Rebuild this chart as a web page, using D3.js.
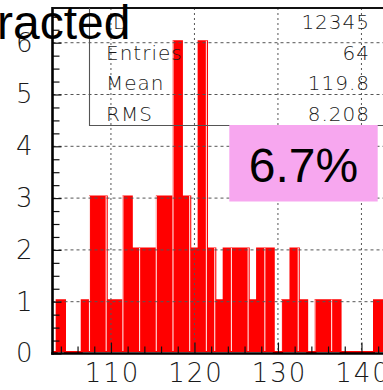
<!DOCTYPE html>
<html>
<head>
<meta charset="utf-8">
<script src="https://cdn.jsdelivr.net/npm/d3@7"></script>
<style>
  html, body { margin: 0; padding: 0; background: #ffffff; overflow: hidden; }
  svg { display: block; }
</style>
</head>
<body>
<svg id="chart" width="383" height="390"></svg>
<script>
// Histogram bins (centre of each unit-wide bin) and their entry counts
const binCenters = [103, 104, 105, 106, 107, 108, 109, 110, 111, 112,
                    113, 114, 115, 116, 117, 118, 119, 120, 121, 122,
                    123, 124, 125, 126, 127, 128, 129, 130, 131, 132,
                    133, 134, 135, 136, 137, 138, 139, 140, 141, 142];
const counts     = [0, 1, 0, 0, 1, 3, 3, 1, 1, 3,
                    2, 2, 2, 3, 3, 6, 3, 2, 6, 2,
                    1, 2, 2, 2, 1, 2, 2, 0, 1, 2,
                    1, 0, 1, 1, 1, 0, 0, 0, 0, 1];
// Bin edges where the filled boxes show a light seam
const seamEdges = [107.5, 109.5, 111.5, 113.5, 115.5, 117.5, 119.5, 121.5,
                   122.5, 124.5, 126.5, 128.5, 130.5, 132.5, 134.5, 136.5, 138.5, 140.5];

const xTicks = [110, 120, 130, 140];
const xMinorTicks = [104, 106, 108, 112, 114, 116, 118, 122, 124, 126, 128,
                     132, 134, 136, 138, 142];
const yTicks = [0, 1, 2, 3, 4, 5, 6];
const yMinorTicks = [0.25, 0.5, 0.75, 1.25, 1.5, 1.75, 2.25, 2.5, 2.75, 3.25, 3.5, 3.75,
                     4.25, 4.5, 4.75, 5.25, 5.5, 5.75, 6.25, 6.5];

const statLabels = ["ID", "Entries", "Mean", "RMS"];
const statValues = ["12345", "64", "119.8", "8.208"];
const titleText = "racted";
const badgeText = "6.7%";

// Frame geometry
const frame = { left: 52.5, right: 386.5, top: 8, bottom: 353.5 };

const x = d3.scaleLinear().domain([103, 143]).range([frame.left, frame.right]);
const y = d3.scaleLinear().domain([0, 6.67]).range([frame.bottom, frame.top]);

const svg = d3.select("#chart");
const axisFont = "'DejaVu Sans', sans-serif";

svg.append("defs").append("clipPath").attr("id", "frameClip")
  .append("rect")
  .attr("x", frame.left).attr("y", frame.top - 4)
  .attr("width", frame.right - frame.left).attr("height", frame.bottom - frame.top + 4);

// ---- Histogram body: one step outline, filled ----
const bins = binCenters.map((c, i) => ({ lo: c - 0.5, hi: c + 0.5, n: counts[i] }));
const outline = [[bins[0].lo, 0]];
bins.forEach(b => { outline.push([b.lo, b.n]); outline.push([b.hi, b.n]); });
outline.push([bins[bins.length - 1].hi, 0]);

const histG = svg.append("g")
  .attr("clip-path", "url(#frameClip)")
  .append("g")
  .attr("transform", "translate(0,-1.5)");

histG.append("path")
  .datum(outline)
  .attr("d", d3.line().x(d => x(d[0])).y(d => y(d[1])))
  .attr("fill", "#ff0000")
  .attr("stroke", "#ff0000")
  .attr("stroke-width", 2)
  .attr("stroke-linejoin", "miter");

const countAt = c => { const i = binCenters.indexOf(c); return i < 0 ? 0 : counts[i]; };
histG.selectAll("line.seam")
  .data(seamEdges.filter(e => Math.max(countAt(e - 0.5), countAt(e + 0.5)) > 0))
  .join("line")
  .attr("class", "seam")
  .attr("x1", e => x(e) - 0.6).attr("x2", e => x(e) - 0.6)
  .attr("y1", y(0) - 1)
  .attr("y2", e => y(Math.max(countAt(e - 0.5), countAt(e + 0.5))) - 0.5)
  .attr("stroke", "#ffe2e2")
  .attr("stroke-width", 1.1);

// ---- Grid (dotted, painted over the bars) ----
const gridG = svg.append("g").attr("clip-path", "url(#frameClip)");
gridG.selectAll("line.hgrid")
  .data(yTicks.filter(d => d > 0))
  .join("line")
  .attr("class", "hgrid")
  .attr("x1", frame.left).attr("x2", frame.right)
  .attr("y1", d => y(d)).attr("y2", d => y(d))
  .attr("stroke", "#555").attr("stroke-width", 1)
  .attr("stroke-dasharray", "3,3");
gridG.selectAll("line.vgrid")
  .data(xTicks)
  .join("line")
  .attr("class", "vgrid")
  .attr("x1", d => x(d)).attr("x2", d => x(d))
  .attr("y1", frame.top).attr("y2", frame.bottom)
  .attr("stroke", "#555").attr("stroke-width", 1)
  .attr("stroke-dasharray", "2,3");

// ---- Axes ----
function styleAxis(g, fontSize) {
  g.select(".domain").remove();
  g.selectAll(".tick line").attr("stroke", "#111").attr("stroke-width", 1.2);
  g.selectAll(".tick text")
    .attr("fill", "#1a1a1a")
    .style("font-family", axisFont)
    .style("font-weight", 200)
    .style("font-size", fontSize + "px");
}

const yAxisG = svg.append("g").attr("transform", `translate(${frame.left},0)`);
yAxisG.call(d3.axisLeft(y).tickValues(yTicks).tickSize(-9).tickSizeOuter(0)
  .tickPadding(20).tickFormat(d3.format("d")));
styleAxis(yAxisG, 26);
const yMinorG = svg.append("g").attr("transform", `translate(${frame.left},0)`);
yMinorG.call(d3.axisLeft(y).tickValues(yMinorTicks).tickSize(-7).tickSizeOuter(0).tickFormat(""));
styleAxis(yMinorG, 10);

const xAxisG = svg.append("g").attr("transform", `translate(0,${frame.bottom})`);
xAxisG.call(d3.axisBottom(x).tickValues(xTicks).tickSize(-11).tickSizeOuter(0)
  .tickPadding(10).tickFormat(d3.format("d")));
styleAxis(xAxisG, 26);
xAxisG.selectAll(".tick text").style("letter-spacing", "2px").attr("dx", "1px");
const xMinorG = svg.append("g").attr("transform", `translate(0,${frame.bottom})`);
xMinorG.call(d3.axisBottom(x).tickValues(xMinorTicks).tickSize(-7).tickSizeOuter(0).tickFormat(""));
styleAxis(xMinorG, 10);

// Frame lines: thick left and bottom axes, thin top edge
svg.append("line")
  .attr("x1", frame.left).attr("x2", frame.left)
  .attr("y1", frame.top - 1).attr("y2", frame.bottom + 1.2)
  .attr("stroke", "#000").attr("stroke-width", 2.6);
svg.append("line")
  .attr("x1", frame.left - 1.3).attr("x2", frame.right)
  .attr("y1", frame.bottom).attr("y2", frame.bottom)
  .attr("stroke", "#000").attr("stroke-width", 2.4);
svg.append("line")
  .attr("x1", frame.left).attr("x2", frame.right)
  .attr("y1", frame.top).attr("y2", frame.top)
  .attr("stroke", "#111").attr("stroke-width", 1.8);

// ---- Statistics box ----
const stats = { left: 89.5, bottom: 125.5, textLeft: 106, textRight: 370, firstBaseline: 29, rowStep: 30.6 };
svg.append("path")
  .attr("d", `M${stats.left},${frame.top}V${stats.bottom}H${frame.right}`)
  .attr("fill", "none").attr("stroke", "#555").attr("stroke-width", 1.1);
const statG = svg.append("g")
  .style("font-family", axisFont).style("font-weight", 200).style("font-size", "20px")
  .attr("fill", "#1a1a1a");
statG.selectAll("text.lab").data(statLabels).join("text")
  .attr("class", "lab")
  .attr("x", stats.textLeft)
  .attr("y", (d, i) => stats.firstBaseline + i * stats.rowStep)
  .style("letter-spacing", "1px")
  .text(d => d);
statG.selectAll("text.val").data(statValues).join("text")
  .attr("class", "val")
  .attr("x", stats.textRight)
  .attr("y", (d, i) => stats.firstBaseline + i * stats.rowStep)
  .attr("text-anchor", "end")
  .style("letter-spacing", "1px")
  .text(d => d);

// ---- Highlight badge ----
const badge = { x: 229.3, y: 125, w: 148.4, h: 76.5 };
svg.append("rect")
  .attr("x", badge.x).attr("y", badge.y).attr("width", badge.w).attr("height", badge.h)
  .attr("fill", "#f7a7ef");
svg.append("text")
  .attr("x", badge.x + badge.w / 2).attr("y", badge.y + 56.5)
  .attr("text-anchor", "middle")
  .style("font-family", "'Liberation Sans', Arial, sans-serif")
  .style("font-size", "48px")
  .attr("fill", "#000")
  .text(badgeText);

// ---- Title ----
svg.append("text")
  .attr("x", -3).attr("y", 39)
  .style("font-family", "'Liberation Sans', Arial, sans-serif")
  .style("font-size", "48px")
  .attr("fill", "#000")
  .text(titleText);
</script>
</body>
</html>
